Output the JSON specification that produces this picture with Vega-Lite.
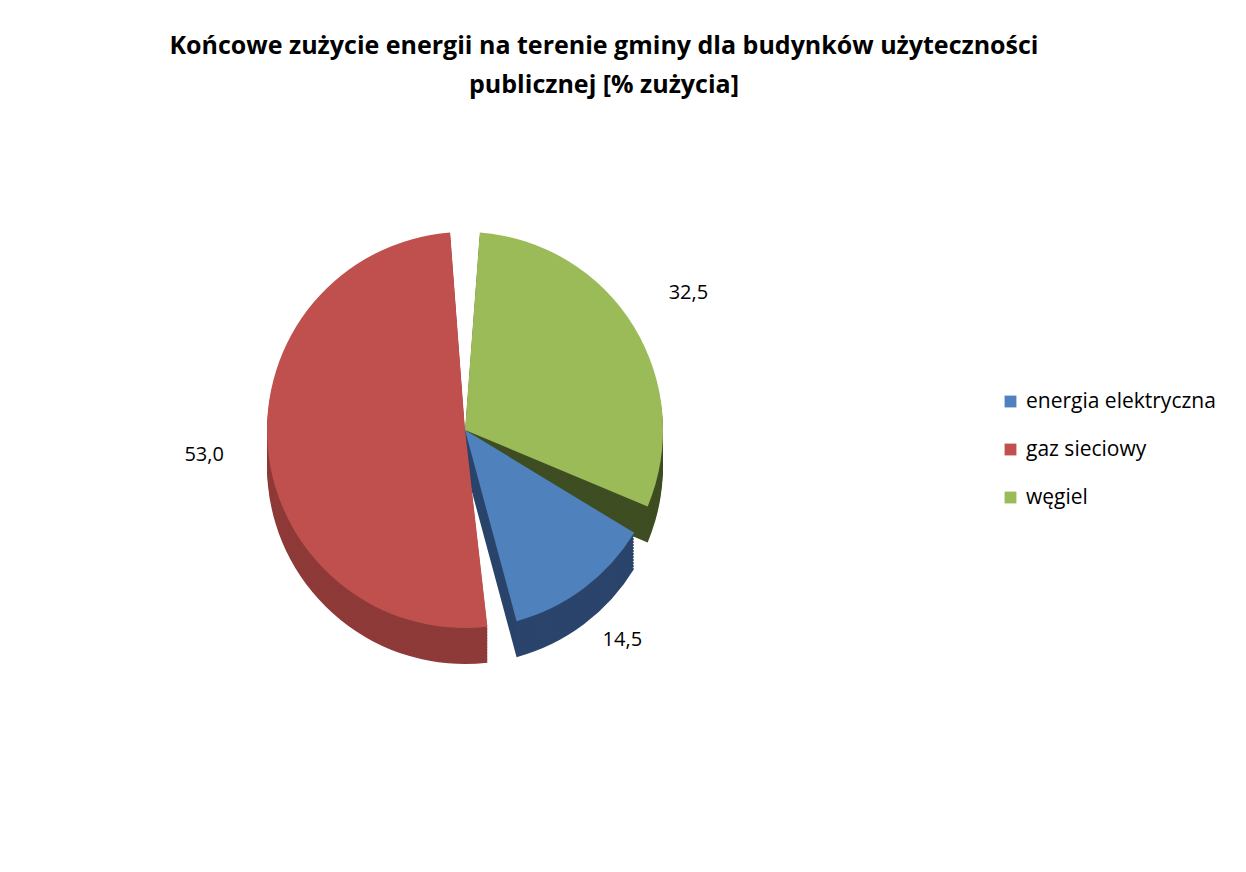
{
  "$schema": "https://vega.github.io/schema/vega-lite/v6.json",
  "width": 886,
  "height": 640,
  "autosize": {"type": "none"},
  "padding": {"left": 22, "top": 110, "right": 338, "bottom": 122},
  "background": "white",
  "title": {
    "text": ["Końcowe zużycie energii na terenie gminy dla budynków użyteczności", "publicznej [% zużycia]"],
    "font": "Open Sans",
    "fontSize": 25,
    "fontWeight": "bold",
    "color": "#000000",
    "anchor": "middle",
    "dx": 139,
    "offset": 12,
    "lineHeight": 39
  },
  "data": {
    "values": [
      {"nosnik": "energia elektryczna", "udzial": 14.5},
      {"nosnik": "gaz sieciowy", "udzial": 53.0},
      {"nosnik": "węgiel", "udzial": 32.5}
    ]
  },
  "encoding": {
    "theta": {"field": "udzial", "type": "quantitative", "stack": true, "scale": {"range": [2.042, 8.325]}},
    "order": {"field": "nosnik", "type": "nominal", "sort": "ascending"}
  },
  "layer": [
    {"mark": {"type": "arc", "outerRadius": 198, "padAngle": 0.15, "yOffset": 36},
     "encoding": {"color": {"field": "nosnik", "type": "nominal", "legend": null, "scale": {"range": ["#2A446B", "#8E3A38", "#3F4D22"]}}}},
    {"mark": {"type": "arc", "outerRadius": 198, "padAngle": 0.15, "yOffset": 33},
     "encoding": {"color": {"field": "nosnik", "type": "nominal", "legend": null, "scale": {"range": ["#2A446B", "#8E3A38", "#3F4D22"]}}}},
    {"mark": {"type": "arc", "outerRadius": 198, "padAngle": 0.15, "yOffset": 30},
     "encoding": {"color": {"field": "nosnik", "type": "nominal", "legend": null, "scale": {"range": ["#2A446B", "#8E3A38", "#3F4D22"]}}}},
    {"mark": {"type": "arc", "outerRadius": 198, "padAngle": 0.15, "yOffset": 27},
     "encoding": {"color": {"field": "nosnik", "type": "nominal", "legend": null, "scale": {"range": ["#2A446B", "#8E3A38", "#3F4D22"]}}}},
    {"mark": {"type": "arc", "outerRadius": 198, "padAngle": 0.15, "yOffset": 24},
     "encoding": {"color": {"field": "nosnik", "type": "nominal", "legend": null, "scale": {"range": ["#2A446B", "#8E3A38", "#3F4D22"]}}}},
    {"mark": {"type": "arc", "outerRadius": 198, "padAngle": 0.15, "yOffset": 21},
     "encoding": {"color": {"field": "nosnik", "type": "nominal", "legend": null, "scale": {"range": ["#2A446B", "#8E3A38", "#3F4D22"]}}}},
    {"mark": {"type": "arc", "outerRadius": 198, "padAngle": 0.15, "yOffset": 18},
     "encoding": {"color": {"field": "nosnik", "type": "nominal", "legend": null, "scale": {"range": ["#2A446B", "#8E3A38", "#3F4D22"]}}}},
    {"mark": {"type": "arc", "outerRadius": 198, "padAngle": 0.15, "yOffset": 15},
     "encoding": {"color": {"field": "nosnik", "type": "nominal", "legend": null, "scale": {"range": ["#2A446B", "#8E3A38", "#3F4D22"]}}}},
    {"mark": {"type": "arc", "outerRadius": 198, "padAngle": 0.15, "yOffset": 12},
     "encoding": {"color": {"field": "nosnik", "type": "nominal", "legend": null, "scale": {"range": ["#2A446B", "#8E3A38", "#3F4D22"]}}}},
    {"mark": {"type": "arc", "outerRadius": 198, "padAngle": 0.15, "yOffset": 9},
     "encoding": {"color": {"field": "nosnik", "type": "nominal", "legend": null, "scale": {"range": ["#2A446B", "#8E3A38", "#3F4D22"]}}}},
    {"mark": {"type": "arc", "outerRadius": 198, "padAngle": 0.15, "yOffset": 6},
     "encoding": {"color": {"field": "nosnik", "type": "nominal", "legend": null, "scale": {"range": ["#2A446B", "#8E3A38", "#3F4D22"]}}}},
    {"mark": {"type": "arc", "outerRadius": 198, "padAngle": 0.15, "yOffset": 3},
     "encoding": {"color": {"field": "nosnik", "type": "nominal", "legend": null, "scale": {"range": ["#2A446B", "#8E3A38", "#3F4D22"]}}}},
    {"mark": {"type": "arc", "outerRadius": 198, "padAngle": 0.15},
     "encoding": {"color": {"field": "nosnik", "type": "nominal",
       "scale": {"range": ["#4F81BD", "#C0504D", "#9BBB59"]},
       "legend": {"title": null, "orient": "none", "legendX": 978, "legendY": 281,
         "symbolType": "square", "symbolSize": 140, "labelFont": "Open Sans", "labelFontSize": 21,
         "labelColor": "#000000", "labelLimit": 400, "rowPadding": 26, "labelOffset": 5}}}},
    {"mark": {"type": "text", "radius": 262, "font": "Open Sans", "fontSize": 20, "color": "#000000"},
     "encoding": {"text": {"field": "udzial", "type": "quantitative", "format": ".1f"}}}
  ],
  "resolve": {"scale": {"color": "independent"}},
  "config": {
    "view": {"stroke": null},
    "locale": {"number": {"decimal": ",", "thousands": " ", "grouping": [3], "currency": ["", " zł"]}}
  }
}
